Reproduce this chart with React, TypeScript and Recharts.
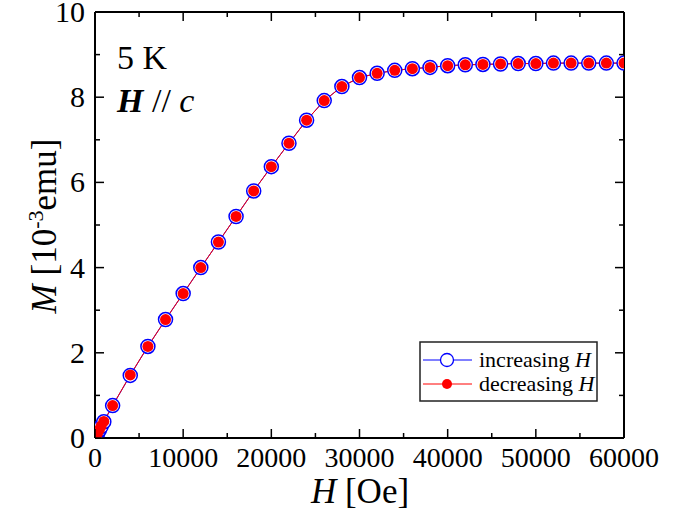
import React from 'react';
import { LineChart, Line, XAxis, YAxis } from 'recharts';

const fieldOe = [
  0, 100, 200, 300, 500, 700, 1000, 2000, 4000, 6000, 8000, 10000, 12000, 14000,
  16000, 18000, 20000, 22000, 24000, 26000, 28000, 30000, 32000, 34000, 36000,
  38000, 40000, 42000, 44000, 46000, 48000, 50000, 52000, 54000, 56000, 58000, 60000,
];
const increasingM = [
  0, 0.03, 0.07, 0.11, 0.19, 0.27, 0.38, 0.76, 1.47, 2.15, 2.78, 3.39, 4.0, 4.6,
  5.2, 5.8, 6.37, 6.92, 7.46, 7.92, 8.25, 8.46, 8.56, 8.63, 8.67,
  8.7, 8.74, 8.76, 8.77, 8.78, 8.79, 8.79, 8.8, 8.8, 8.8, 8.8, 8.8,
];
const decreasingM = [
  0, 0.04, 0.08, 0.12, 0.2, 0.28, 0.39, 0.76, 1.48, 2.15, 2.78, 3.39, 4.0, 4.6,
  5.2, 5.8, 6.37, 6.92, 7.46, 7.92, 8.25, 8.46, 8.56, 8.63, 8.67,
  8.7, 8.74, 8.76, 8.77, 8.78, 8.79, 8.79, 8.8, 8.8, 8.8, 8.8, 8.8,
];
const xTicks = [0, 5000, 10000, 15000, 20000, 25000, 30000, 35000, 40000, 45000, 50000, 55000, 60000];
const xLabelTicks = [0, 10000, 20000, 30000, 40000, 50000, 60000];
const yTicks = [0, 1, 2, 3, 4, 5, 6, 7, 8, 9, 10];
const yLabelTicks = [0, 2, 4, 6, 8, 10];

const data = fieldOe.map((h, i) => ({ H: h, inc: increasingM[i], dec: decreasingM[i] }));

const FONT = 'Liberation Serif';
const MAJOR = 9;
const MINOR = 5;

const BottomTick = (props: any) => {
  const { x, y, payload } = props;
  const major = xLabelTicks.includes(payload.value);
  return (
    <g>
      <line x1={x} x2={x} y1={y} y2={y - (major ? MAJOR : MINOR)} stroke="#000" strokeWidth={1.5} />
      {major && (
        <text x={x} y={y + 29} textAnchor="middle" fontSize={28} fontFamily={FONT} fill="#000">
          {payload.value}
        </text>
      )}
    </g>
  );
};

const TopTick = (props: any) => {
  const { x, y, payload } = props;
  const major = xLabelTicks.includes(payload.value);
  return <line x1={x} x2={x} y1={y} y2={y + (major ? MAJOR : MINOR)} stroke="#000" strokeWidth={1.5} />;
};

const LeftTick = (props: any) => {
  const { x, y, payload } = props;
  const major = yLabelTicks.includes(payload.value);
  return (
    <g>
      <line x1={x} x2={x + (major ? MAJOR : MINOR)} y1={y} y2={y} stroke="#000" strokeWidth={1.5} />
      {major && (
        <text x={x - 10} y={y + 10} textAnchor="end" fontSize={30} fontFamily={FONT} fill="#000">
          {payload.value}
        </text>
      )}
    </g>
  );
};

const RightTick = (props: any) => {
  const { x, y, payload } = props;
  const major = yLabelTicks.includes(payload.value);
  return <line x1={x} x2={x - (major ? MAJOR : MINOR)} y1={y} y2={y} stroke="#000" strokeWidth={1.5} />;
};

export default function App() {
  return (
    <div style={{ position: 'absolute', left: 0, top: 0, width: 685, height: 512, background: '#fff' }}>
      <LineChart
        width={685}
        height={512}
        data={data}
        margin={{ top: 11, right: 60, bottom: 0, left: 0 }}
      >
        <XAxis
          xAxisId="bottom"
          dataKey="H"
          type="number"
          domain={[0, 60000]}
          ticks={xTicks}
          interval={0}
          height={74}
          tickSize={0}
          tickMargin={0}
          tickLine={false}
          axisLine={{ stroke: '#000', strokeWidth: 2 }}
          tick={<BottomTick />}
          allowDataOverflow
        />
        <XAxis
          xAxisId="top"
          orientation="top"
          dataKey="H"
          type="number"
          domain={[0, 60000]}
          ticks={xTicks}
          interval={0}
          height={1}
          tickSize={0}
          tickMargin={0}
          tickLine={false}
          axisLine={{ stroke: '#000', strokeWidth: 2 }}
          tick={<TopTick />}
          allowDataOverflow
        />
        <YAxis
          yAxisId="left"
          type="number"
          domain={[0, 10]}
          ticks={yTicks}
          interval={0}
          width={95}
          tickSize={0}
          tickMargin={0}
          tickLine={false}
          axisLine={{ stroke: '#000', strokeWidth: 2 }}
          tick={<LeftTick />}
          allowDataOverflow
        />
        <YAxis
          yAxisId="right"
          orientation="right"
          type="number"
          domain={[0, 10]}
          ticks={yTicks}
          interval={0}
          width={1}
          tickSize={0}
          tickMargin={0}
          tickLine={false}
          axisLine={{ stroke: '#000', strokeWidth: 2 }}
          tick={<RightTick />}
          allowDataOverflow
        />
        <Line
          xAxisId="bottom"
          yAxisId="left"
          dataKey="inc"
          type="linear"
          stroke="#0000ff"
          strokeWidth={1}
          dot={{ r: 7, stroke: '#0000ff', strokeWidth: 1.5, fill: '#ffffff' }}
          isAnimationActive={false}
        />
        <Line
          xAxisId="bottom"
          yAxisId="left"
          dataKey="dec"
          type="linear"
          stroke="#ff0000"
          strokeWidth={1}
          dot={{ r: 5.5, stroke: '#ff0000', strokeWidth: 0, fill: '#ff0000' }}
          isAnimationActive={false}
        />
      </LineChart>
      <svg
        width={685}
        height={512}
        style={{ position: 'absolute', left: 0, top: 0, pointerEvents: 'none' }}
        fontFamily={FONT}
      >
        <text x={117} y={69} fontSize={34} fill="#000">5 K</text>
        <text x={117} y={112} fontSize={34} fill="#000">
          <tspan fontWeight="bold" fontStyle="italic">H</tspan>
          <tspan> // </tspan>
          <tspan fontStyle="italic">c</tspan>
        </text>
        <text x={360} y={503} fontSize={35} textAnchor="middle" fill="#000">
          <tspan fontStyle="italic">H</tspan>
          <tspan> [Oe]</tspan>
        </text>
        <text transform="translate(56,226) rotate(-90)" fontSize={35} textAnchor="middle" fill="#000">
          <tspan fontStyle="italic">M</tspan>
          <tspan> [10</tspan>
          <tspan fontSize={22} dy={-13}>-3</tspan>
          <tspan dy={13}>emu]</tspan>
        </text>
        <rect x={420} y={342} width={177} height={59} fill="#fff" stroke="#222" strokeWidth={1.5} />
        <line x1={423} x2={472} y1={360} y2={360} stroke="#0000ff" strokeWidth={1} />
        <circle cx={447} cy={360} r={6.5} fill="#fff" stroke="#0000ff" strokeWidth={1.3} />
        <text x={479} y={367} fontSize={22} fill="#000">
          increasing <tspan fontStyle="italic">H</tspan>
        </text>
        <line x1={423} x2={472} y1={384} y2={384} stroke="#ff0000" strokeWidth={1} />
        <circle cx={447} cy={384} r={5} fill="#ff0000" />
        <text x={479} y={391} fontSize={22} fill="#000">
          decreasing <tspan fontStyle="italic">H</tspan>
        </text>
      </svg>
    </div>
  );
}
